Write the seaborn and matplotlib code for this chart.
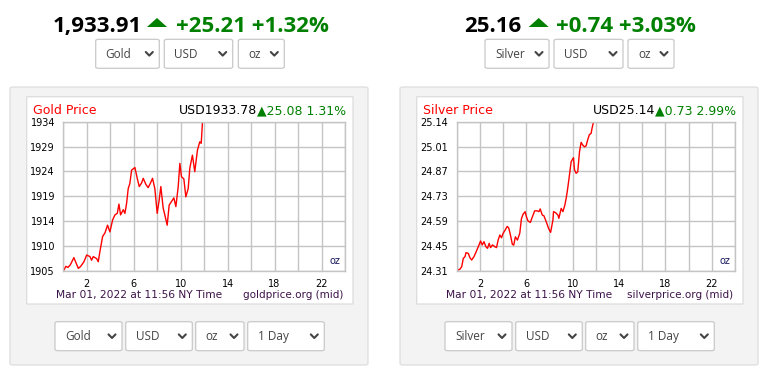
import matplotlib
matplotlib.use("Agg")
import matplotlib.pyplot as plt
import matplotlib.patches as mpatches
from matplotlib.lines import Line2D
import seaborn as sns
import pandas as pd

# ---- data ----
gold_hours = [0.06, 0.22, 0.4, 0.6, 0.9, 1.28, 1.48, 1.76, 1.99, 2.27, 2.41, 2.55, 2.84, 2.98, 3.12,
              3.35, 3.55, 3.77, 3.97, 4.2, 4.4, 4.6, 4.74, 4.88, 5.11, 5.25, 5.39, 5.53, 5.67, 5.82,
              6.1, 6.3, 6.47, 6.67, 6.81, 7.04, 7.23, 7.43, 7.6, 7.8, 8.0, 8.17, 8.31, 8.51, 8.65,
              8.85, 9.02, 9.22, 9.42, 9.59, 9.79, 9.93, 10.07, 10.27, 10.44, 10.64, 10.78, 11.0,
              11.2, 11.43, 11.63, 11.75, 11.86]
gold_price = [1905.2, 1905.9, 1905.7, 1906.2, 1907.6, 1905.5, 1905.9, 1906.8, 1908.1, 1907.8, 1907.1,
              1907.8, 1907.4, 1906.8, 1908.8, 1911.7, 1912.4, 1913.9, 1912.6, 1914.9, 1915.9, 1916.2,
              1918.0, 1915.9, 1916.9, 1916.2, 1918.1, 1921.0, 1922.0, 1924.6, 1925.1, 1923.0, 1921.4,
              1922.1, 1923.0, 1921.8, 1921.2, 1922.1, 1923.0, 1921.0, 1916.2, 1918.8, 1921.4, 1917.2,
              1915.9, 1913.9, 1917.8, 1918.5, 1919.2, 1917.5, 1921.4, 1925.9, 1923.3, 1922.9, 1919.4,
              1921.0, 1925.0, 1927.5, 1924.3, 1928.5, 1930.1, 1929.8, 1934.0]

silver_hours = [0.06, 0.29, 0.43, 0.57, 0.72, 0.8, 1.0, 1.14, 1.29, 1.49, 1.66, 1.86, 2.06, 2.2, 2.35,
                2.52, 2.66, 2.8, 2.92, 3.09, 3.29, 3.43, 3.58, 3.72, 3.86, 4.0, 4.2, 4.35, 4.49, 4.64,
                4.8, 4.92, 5.06, 5.24, 5.44, 5.58, 5.72, 5.9, 6.01, 6.15, 6.35, 6.58, 6.72, 6.92, 7.1,
                7.2, 7.38, 7.52, 7.72, 7.92, 8.1, 8.3, 8.35, 8.53, 8.73, 8.81, 8.93, 9.01, 9.16, 9.33,
                9.44, 9.53, 9.67, 9.87, 10.07, 10.16, 10.3, 10.44, 10.59, 10.73, 10.87, 11.02, 11.16,
                11.3, 11.44, 11.59, 11.67, 11.79, 11.85]
silver_price = [24.314, 24.321, 24.334, 24.38, 24.39, 24.412, 24.408, 24.384, 24.371, 24.39, 24.414,
                24.445, 24.477, 24.455, 24.473, 24.445, 24.436, 24.464, 24.44, 24.455, 24.445, 24.44,
                24.483, 24.51, 24.495, 24.519, 24.54, 24.558, 24.549, 24.508, 24.458, 24.454, 24.5,
                24.482, 24.52, 24.6, 24.625, 24.64, 24.612, 24.588, 24.58, 24.62, 24.644, 24.645, 24.64,
                24.655, 24.621, 24.617, 24.584, 24.547, 24.525, 24.594, 24.64, 24.634, 24.621, 24.603,
                24.636, 24.658, 24.64, 24.677, 24.714, 24.75, 24.816, 24.918, 24.94, 24.872, 24.853,
                24.862, 24.973, 25.025, 25.01, 25.0, 25.006, 25.04, 25.068, 25.075, 25.103, 25.136, 25.14]

gold_ylabels = ["1905", "1910", "1914", "1919", "1924", "1929", "1934"]
silver_ylabels = ["24.31", "24.45", "24.59", "24.73", "24.87", "25.01", "25.14"]
hour_ticks = list(range(0, 25, 2))
hour_labels = ["", "2", "", "6", "", "10", "", "14", "", "18", "", "22", ""]

W, H = 772, 378
GRID = "#c4c4c4"
GREEN = "#008000"
STAMP = "#3d1248"

sns.set_style("white")
plt.rcParams["font.family"] = ["DejaVu Sans"]

fig = plt.figure(figsize=(W / 100, H / 100), dpi=100)
fig.patch.set_facecolor("white")


def fx(x):
    return x / W


def fy(y):
    return 1 - y / H


def box(x0, y0, x1, y1, fc, ec, r=3, z=0):
    p = mpatches.FancyBboxPatch((fx(x0), fy(y1)), fx(x1 - x0), (y1 - y0) / H,
                                boxstyle=f"round,pad=0,rounding_size={r / W}",
                                transform=fig.transFigure, fc=fc, ec=ec, lw=0.9, zorder=z)
    fig.add_artist(p)


def dropdown(x0, x1, y0, y1, label):
    box(x0, y0, x1, y1, "white", "#c9c9c9", r=3, z=2)
    cy = (y0 + y1) / 2
    fig.text(fx(x0 + 10), fy(cy + 4), label, fontsize=8.5, family="Open Sans",
             color="#444444", ha="left", va="baseline", zorder=3)
    cx = x1 - 10
    fig.add_artist(Line2D([fx(cx - 3.5), fx(cx), fx(cx + 3.5)], [fy(cy - 1.8), fy(cy + 1.8), fy(cy - 1.8)],
                          transform=fig.transFigure, color="#444444", lw=1.5, zorder=3))


def header(dx, price, change, dropdowns, tri_x, chg_x):
    fig.text(fx(dx), fy(32), price, fontsize=16, family="Open Sans", weight="bold",
             color="black", ha="left", va="baseline")
    tri = mpatches.Polygon([(fx(tri_x), fy(27)), (fx(tri_x + 20), fy(27)), (fx(tri_x + 10), fy(18))],
                           closed=True, transform=fig.transFigure, fc=GREEN, ec="none")
    fig.add_artist(tri)
    fig.text(fx(chg_x), fy(32), change, fontsize=16, family="Open Sans", weight="bold",
             color=GREEN, ha="left", va="baseline")
    for (a, b, lab) in dropdowns:
        dropdown(a, b, 39.3, 68.3, lab)


def panel(off, ax_left, quote_black, quote_green, site, hours, prices, ylabels, metal):
    box(10 + off, 87, 368 + off, 365, "#f3f3f3", "#dedede", r=3, z=0)
    box(26.7 + off, 96.7, 353 + off, 304, "white", "#dcdcdc", r=0, z=1)

    ax = fig.add_axes([fx(ax_left), fy(271), fx(345 + off - ax_left), (271 - 121.7) / H])
    ax.set_zorder(2)
    df = pd.DataFrame({"hour": hours, "price": prices})
    sns.lineplot(data=df, x="hour", y="price", ax=ax, color="#ff0000", lw=1.0,
                 estimator=None, sort=False)
    lo, hi = float(ylabels[0]), float(ylabels[-1])
    ax.set_xlim(0, 24)
    ax.set_ylim(lo, hi)
    ax.set_xticks(hour_ticks)
    ax.set_xticklabels(hour_labels)
    step = (hi - lo) / 6
    ax.set_yticks([lo + k * step for k in range(7)])
    ax.set_yticklabels(ylabels)
    ax.grid(True, color=GRID, lw=1.0)
    ax.set_axisbelow(True)
    for s in ax.spines.values():
        s.set_color(GRID)
        s.set_linewidth(1.0)
    ax.tick_params(axis="both", direction="out", length=5, width=1.0, color=GRID,
                   labelsize=7, labelcolor="black", pad=1)
    ax.set_xlabel("")
    ax.set_ylabel("")
    ax.patch.set_alpha(0)
    ax.text(0.985, 0.035, "oz", transform=ax.transAxes, ha="right", va="bottom",
            fontsize=7, color="#1a1a5e")

    fig.text(fx(33.3 + off), fy(114.3), f"{metal} Price", fontsize=9, color="#ff0000",
             ha="left", va="baseline", zorder=3)
    fig.text(fx(quote_black[1] + off), fy(114), quote_black[0], fontsize=9, color="black",
             ha="right", va="baseline", zorder=3)
    fig.text(fx(346.5 + off), fy(114), quote_green, fontsize=9, color=GREEN,
             ha="right", va="baseline", zorder=3)
    fig.text(fx(55.7 + off), fy(298.3), "Mar 01, 2022 at 11:56 NY Time", fontsize=7.7,
             color=STAMP, ha="left", va="baseline", zorder=3)
    fig.text(fx(343 + off), fy(298.3), site, fontsize=7.5, color=STAMP,
             ha="right", va="baseline", zorder=3)

    bx = [(55, 122, metal), (125.7, 192.3, "USD"), (195.7, 244, "oz"), (247.7, 324.3, "1 Day")]
    for a, b, lab in bx:
        dropdown(a + off, b + off, 321.7, 350.7, lab)


header(53, "1,933.91", "+25.21 +1.32%",
       [(95.7, 159.3, "Gold"), (164.3, 232.7, "USD"), (238.3, 284.3, "oz")], 147, 176)
header(463.7, "25.16", "+0.74 +3.03%",
       [(485, 549, "Silver"), (554, 623, "USD"), (628, 674, "oz")], 528.7, 556)

panel(0, 63.3, ("USD1933.78", 257.5), "\u25b225.08 1.31%", "goldprice.org (mid)",
      gold_hours, gold_price, gold_ylabels, "Gold")
panel(390, 456.7, ("USD25.14", 265), "\u25b20.73 2.99%", "silverprice.org (mid)",
      silver_hours, silver_price, silver_ylabels, "Silver")

fig.savefig("out.png", dpi=100, facecolor="white")
